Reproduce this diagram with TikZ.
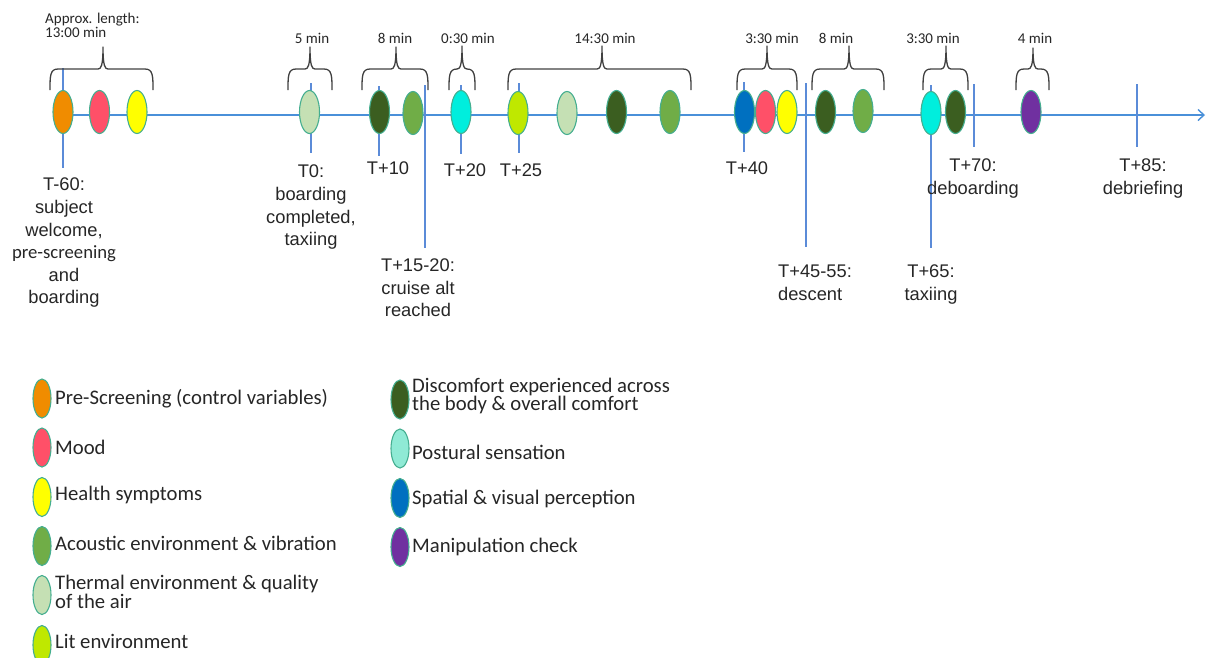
\documentclass[tikz,border=0pt]{standalone}
\usepackage{fontspec}
\setmainfont{Liberation Sans}
\newfontfamily\calfont{Carlito}
\definecolor{cOrange}{HTML}{F08C00}
\definecolor{cRed}{HTML}{FF5068}
\definecolor{cYellow}{HTML}{FFFF00}
\definecolor{cDark}{HTML}{3B5E20}
\definecolor{cGreen}{HTML}{70AD47}
\definecolor{cPale}{HTML}{C5E0B4}
\definecolor{cCyan}{HTML}{00EEDD}
\definecolor{cLime}{HTML}{BFE800}
\definecolor{cBlue}{HTML}{0070C0}
\definecolor{cPurple}{HTML}{7030A0}
\definecolor{cTeal}{HTML}{8FEAD5}
\definecolor{cEdge}{HTML}{45AE90}
\definecolor{cAxis}{HTML}{4A90D9}
\definecolor{cTick}{HTML}{5B8BD8}
\definecolor{cInk}{HTML}{262626}
\usetikzlibrary{shapes.geometric,arrows.meta}
\tikzset{
  x=1pt,y=-1pt,
  ev/.style={ellipse,draw=cEdge,line width=1.1pt,minimum width=20pt,minimum height=43pt,inner sep=0pt},
  leg/.style={ellipse,draw=cEdge,line width=1.1pt,minimum width=18pt,minimum height=39pt,inner sep=0pt},
  axisline/.style={draw=cAxis,line width=1.4pt},
  tickline/.style={draw=cTick,line width=1.2pt},
  brace/.style={draw=black!75,line width=1.3pt,line join=round},
  lab/.style={align=center,inner sep=0pt,text=cInk,font=\fontsize{18.3}{22.6}\selectfont},
  dur/.style={align=left,inner sep=0pt,text=cInk,font=\calfont\fontsize{15}{14}\selectfont},
  legt/.style={anchor=west,align=left,inner sep=0pt,text=cInk,font=\calfont\fontsize{20.7}{16}\selectfont},
}
\newcommand{\brk}[4]{% left, right, peak, peaky
  \draw[brace] (#1,90) .. controls (#1,76) and (#1,69) .. (#1+8,69) -- (#3-5,69)
    .. controls (#3-2,69) and (#3,66) .. (#3,#4)
    .. controls (#3,66) and (#3+2,69) .. (#3+5,69) -- (#2-8,69)
    .. controls (#2,69) and (#2,76) .. (#2,90);
}
\begin{document}
\begin{tikzpicture}
\useasboundingbox (0,0) rectangle (1207,657);
% timeline ends
\coordinate (start) at (63,115);
\coordinate (end) at (1205,115);
\draw[axisline,-{Straight Barb[length=6pt,width=11pt]}] (start) -- (end);
% ticks
\foreach \n/\x/\a/\b in {a/63/68/168,b/311/83/153,c/379/86/156,d/425/85/248,e/461/85/154,f/519/83/153,g/744/82/152,h/806/83/247,i/931/85/248,j/974/84/147,k/1137/84/147}{
  \coordinate (t\n) at (\x,\a);
  \coordinate (u\n) at (\x,\b);
  \draw[tickline] (t\n) -- (u\n);
}
% brackets
\brk{50}{153}{103}{47}
\brk{288}{332}{310}{47}
\brk{362}{428}{396}{47}
\brk{449}{475}{462}{46}
\brk{508}{691}{602}{46}
\brk{737}{797}{767}{46}
\brk{812}{884}{849}{46}
\brk{923}{968}{946}{46}
\brk{1016}{1049}{1033}{48}
% events
\node[ev,fill=cOrange] (e1) at (63,112) {};
\node[ev,fill=cRed] (e2) at (99.5,112) {};
\node[ev,fill=cYellow] (e3) at (137,112) {};
\node[ev,fill=cPale] (e4) at (309.5,112) {};
\node[ev,fill=cDark] (e5) at (379.5,112) {};
\node[ev,fill=cGreen] (e6) at (413,113) {};
\node[ev,fill=cCyan] (e7) at (461,112) {};
\node[ev,fill=cLime] (e8) at (518,113) {};
\node[ev,fill=cPale] (e9) at (567,113) {};
\node[ev,fill=cDark] (e10) at (616.5,112) {};
\node[ev,fill=cGreen] (e11) at (670,112) {};
\node[ev,fill=cBlue] (e12) at (744.5,112) {};
\node[ev,fill=cRed] (e13) at (765.5,112) {};
\node[ev,fill=cYellow] (e14) at (787,112) {};
\node[ev,fill=cDark] (e15) at (825.5,112) {};
\node[ev,fill=cGreen] (e16) at (863,111) {};
\node[ev,fill=cCyan] (e17) at (931,113) {};
\node[ev,fill=cDark] (e18) at (955.5,112) {};
\node[ev,fill=cPurple] (e19) at (1031,112) {};
% durations
\node[dur,anchor=west] (d1) at (45,25.5) {Approx. length:\\13:00 min};
\node[dur] (d2) at (312,38) {5 min};
\node[dur] (d3) at (395,38) {8 min};
\node[dur] (d4) at (468,38) {0:30 min};
\node[dur] (d5) at (605,38) {14:30 min};
\node[dur] (d6) at (772,38) {3:30 min};
\node[dur] (d7) at (836,38) {8 min};
\node[dur] (d8) at (933,38) {3:30 min};
\node[dur] (d9) at (1035,38) {4 min};
% labels
\node[lab,anchor=north] (l1) at (64,178) {T-60:\\subject\\welcome,\\{\calfont\fontsize{18.7}{22.6}\selectfont pre-screening}\\and\\boarding};
\node[lab,anchor=north] (l2) at (311,165) {T0:\\boarding\\completed,\\taxiing};
\node[lab] (l3) at (388,168.5) {T+10};
\node[lab] (l4) at (465,170) {T+20};
\node[lab] (l5) at (521,170) {T+25};
\node[lab] (l6) at (747,168.5) {T+40};
\node[lab,anchor=north] (l7) at (418,258.5) {T+15-20:\\cruise alt\\reached};
\node[lab,anchor=north,align=left] (l8) at (815,265) {T+45-55:\\descent};
\node[lab,anchor=north] (l9) at (931,265) {T+65:\\taxiing};
\node[lab,anchor=north] (l10) at (973,158.5) {T+70:\\deboarding};
\node[lab,anchor=north] (l11) at (1143,158.5) {T+85:\\debriefing};
% legend
\node[leg,fill=cOrange] (k1) at (42,398.5) {};
\node[leg,fill=cRed] (k2) at (42,447.5) {};
\node[leg,fill=cYellow] (k3) at (42,497) {};
\node[leg,fill=cGreen] (k4) at (42,546) {};
\node[leg,fill=cPale] (k5) at (42,595) {};
\node[leg,fill=cLime] (k6) at (42,645) {};
\node[leg,fill=cDark] (k7) at (400,399.5) {};
\node[leg,fill=cTeal] (k8) at (400,448.5) {};
\node[leg,fill=cBlue] (k9) at (400,498) {};
\node[leg,fill=cPurple] (k10) at (400,547) {};
\node[legt] (m1) at (55,399) {Pre-Screening (control variables)};
\node[legt] (m2) at (55,447) {Mood};
\node[legt] (m3) at (55,495) {Health symptoms};
\node[legt] (m4) at (55,543) {Acoustic environment \& vibration};
\node[legt] (m5) at (55,592) {Thermal environment \& quality\\of the air};
\node[legt] (m6) at (55,641) {Lit environment};
\node[legt] (m7) at (412,396) {Discomfort experienced across\\the body \& overall comfort};
\node[legt] (m8) at (412,452) {Postural sensation};
\node[legt] (m9) at (412,499) {Spatial \& visual perception};
\node[legt] (m10) at (412,547) {Manipulation check};
\end{tikzpicture}
\end{document}
